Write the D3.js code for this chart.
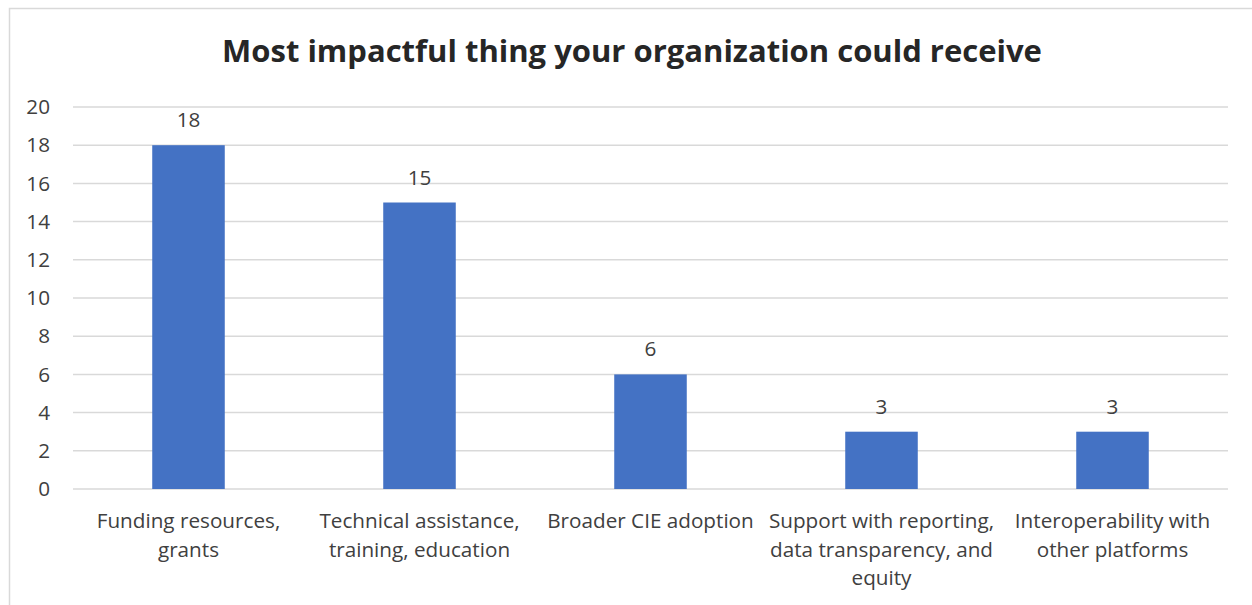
<!DOCTYPE html>
<html>
<head>
<meta charset="utf-8">
<script src="https://cdn.jsdelivr.net/npm/d3@7"></script>
<style>
  body { margin: 0; background: #fff; }
  text { font-family: "Open Sans", sans-serif; fill: #404040; }
</style>
</head>
<body>
<svg width="1252" height="605"></svg>
<script>
// chart data
var categories = [
  ['Funding resources,', 'grants'],
  ['Technical assistance,', 'training, education'],
  ['Broader CIE adoption'],
  ['Support with reporting,', 'data transparency, and', 'equity'],
  ['Interoperability with', 'other platforms']
];
var values = [18, 15, 6, 3, 3];
var yTicks = [0, 2, 4, 6, 8, 10, 12, 14, 16, 18, 20];
var title = 'Most impactful thing your organization could receive';

var fs = 20.7; // label font size

var svg = d3.select('svg');

// outer border of the chart area
svg.append('rect')
  .attr('x', 9.5).attr('y', 8.5)
  .attr('width', 1260).attr('height', 620)
  .attr('fill', 'none').attr('stroke', '#d9d9d9').attr('stroke-width', 1.5);

var plot = { left: 73, right: 1228, top: 107, bottom: 489 };

var x = d3.scaleBand()
  .domain(d3.range(values.length))
  .range([plot.left, plot.right])
  .paddingInner(0.686).paddingOuter(0.343);

var y = d3.scaleLinear().domain([0, 20]).range([plot.bottom, plot.top]);

// gridlines
svg.append('g')
  .selectAll('line')
  .data(yTicks)
  .enter()
  .append('line')
  .attr('x1', plot.left).attr('x2', plot.right)
  .attr('y1', function (d) { return y(d); })
  .attr('y2', function (d) { return y(d); })
  .attr('stroke', '#d9d9d9').attr('stroke-width', 1.5);

// y axis labels
var yAxis = svg.append('g')
  .attr('transform', 'translate(50,0)')
  .call(d3.axisLeft(y).tickValues(yTicks).tickSize(0).tickPadding(0));
yAxis.select('.domain').remove();
yAxis.selectAll('text')
  .attr('font-size', fs).attr('font-family', '"Open Sans", sans-serif')
  .attr('fill', '#404040');

// bars
svg.append('g')
  .selectAll('rect')
  .data(values)
  .enter()
  .append('rect')
  .attr('x', function (d, i) { return x(i); })
  .attr('y', function (d) { return y(d); })
  .attr('width', x.bandwidth())
  .attr('height', function (d) { return y(0) - y(d); })
  .attr('fill', '#4472c4');

// data labels
svg.append('g')
  .selectAll('text')
  .data(values)
  .enter()
  .append('text')
  .attr('x', function (d, i) { return x(i) + x.bandwidth() / 2; })
  .attr('y', function (d) { return y(d) - 18; })
  .attr('text-anchor', 'middle')
  .attr('font-size', fs)
  .text(function (d) { return d; });

// category labels
var cat = svg.append('g')
  .selectAll('text')
  .data(categories)
  .enter()
  .append('text')
  .attr('text-anchor', 'middle')
  .attr('font-size', fs)
  .attr('x', function (d, i) { return x(i) + x.bandwidth() / 2; })
  .attr('y', 528);
cat.selectAll('tspan')
  .data(function (d) { return d; })
  .enter()
  .append('tspan')
  .attr('x', function () { return d3.select(this.parentNode).attr('x'); })
  .attr('dy', function (d, i) { return i === 0 ? 0 : 28.5; })
  .text(function (d) { return d; });

// title
svg.append('text')
  .attr('x', 632).attr('y', 62)
  .attr('text-anchor', 'middle')
  .attr('font-size', 31).attr('font-weight', 'bold')
  .style('fill', '#262626')
  .text(title);
</script>
</body>
</html>
